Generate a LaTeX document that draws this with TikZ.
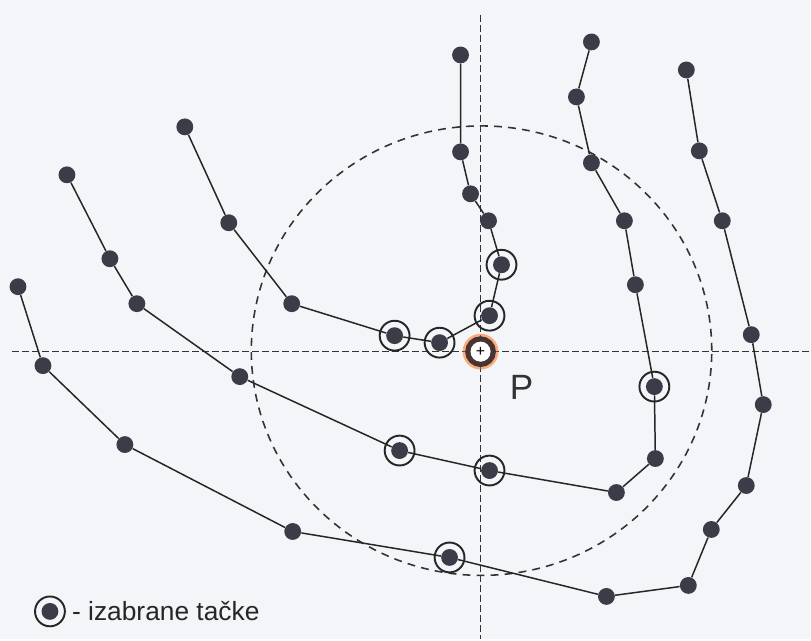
\documentclass[tikz,border=0pt]{standalone}
\usepackage{fontspec}
\setmainfont{Liberation Sans}
\definecolor{dotc}{RGB}{58,60,72}
\definecolor{bgc}{RGB}{244,245,249}
\definecolor{pring}{RGB}{72,52,52}

\begin{document}
\begin{tikzpicture}[x=0.02cm,y=-0.02cm,
  pt/.style={circle,fill=dotc,inner sep=0pt,minimum size=9.6pt},
  ring/.style={line width=1.1pt,draw=black!85},
  trace/.style={line width=0.85pt,draw=black!85},
  axis/.style={line width=0.9pt,draw=black!80,dash pattern=on 3.8pt off 1.9pt}]
  \fill[bgc] (0,0) rectangle (811,640);
  \coordinate (P) at (481,352);
  \coordinate (hl) at (12,352); \coordinate (hr) at (811,352);
  \coordinate (vt) at (481,15); \coordinate (vb) at (481,640);
  \draw[axis] (hl)--(hr) (vt)--(vb);
  \draw[axis,dash pattern=on 4.5pt off 3.5pt] (482,351) ellipse (4.61cm and 4.5cm);
  % three traces
  \foreach \n/\x/\y in {a1/18/287,a2/43/366,a3/125/445,a4/293/532,a5/450/558,a6/607/597,a7/689/586,
    a8/712/530,a9/747/486,a10/764/405,a11/752/335,a12/723/221,a13/700/151,a14/687/70}
    \node[pt] (\n) at (\x,\y) {};
  \foreach \n/\x/\y in {b1/67/175,b2/110/259,b3/137/304,b4/240/377,b5/400/451,b6/490/471,b7/617/493,
    b8/656/459,b9/655/387,b10/636/285,b11/625/221,b12/592/163,b13/577/97,b14/592/42}
    \node[pt] (\n) at (\x,\y) {};
  \foreach \n/\x/\y in {c1/185/127,c2/229/223,c3/292/304,c4/395/336,c5/440/343,c6/490/316,
    c7/502/265,c8/489/221,c9/471/194,c10/461/152,c11/461/55}
    \node[pt] (\n) at (\x,\y) {};
  \draw[trace] (a1)--(a2)--(a3)--(a4)--(a5)--(a6)--(a7)--(a8)--(a9)--(a10)--(a11)--(a12)--(a13)--(a14);
  \draw[trace] (b1)--(b2)--(b3)--(b4)--(b5)--(b6)--(b7)--(b8)--(b9)--(b10)--(b11)--(b12)--(b13)--(b14);
  \draw[trace] (c1)--(c2)--(c3)--(c4)--(c5)--(c6)--(c7)--(c8)--(c9)--(c10)--(c11);
  \foreach \p in {a5,b5,b6,b9,c4,c5,c6,c7}\draw[ring](\p)circle(8.5pt);
  % point P
  \fill[orange!80!red,opacity=0.5] (P) circle (10.2pt);
  \draw[pring,line width=3.1pt] (P) circle (7.2pt);
  \fill[white] (P) circle (5.7pt);
  \node[inner sep=0pt,font=\fontsize{9}{9}\selectfont] (Pc) at (P) {+};
  \node[font=\fontsize{20}{24}\selectfont,text=black!80] (Plbl) at (522,388) {P};
  % legend
  \node[pt] (leg) at (50,612) {};
  \draw[ring] (leg) circle (8.5pt);
  \node[anchor=west,font=\fontsize{15}{18}\selectfont,text=black!85] (legtxt) at (66,612) {- izabrane tačke};
\end{tikzpicture}
\end{document}
